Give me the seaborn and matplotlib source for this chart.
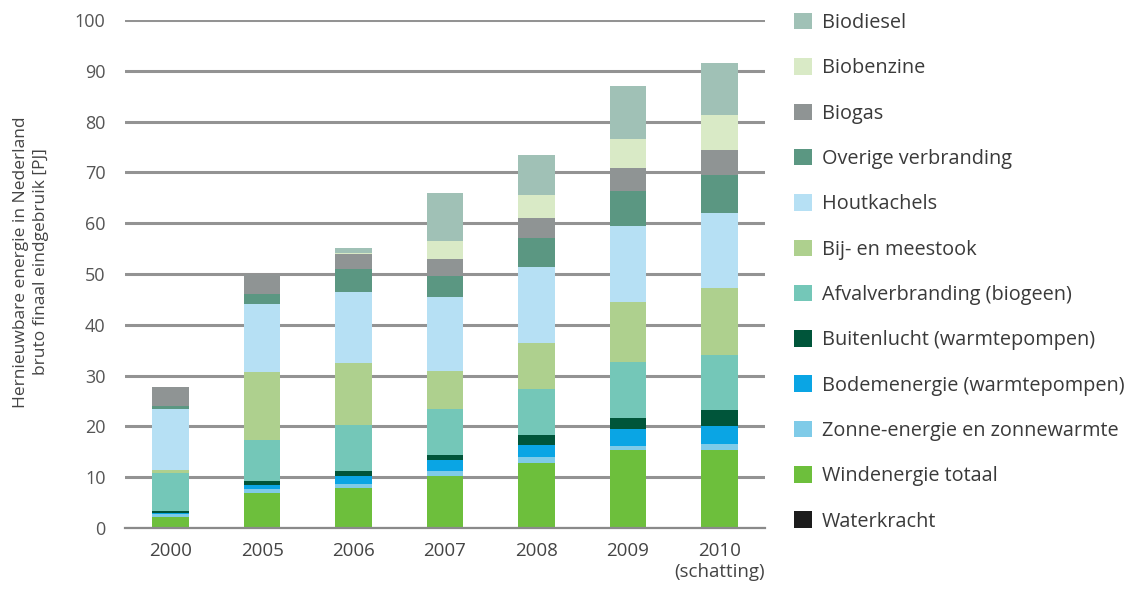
import matplotlib
matplotlib.use("Agg")
import matplotlib.pyplot as plt
import seaborn as sns
import numpy as np
import pandas as pd
from matplotlib.patches import Patch
from matplotlib.ticker import FixedLocator

# ---- data (PJ), stacked bottom -> top ----
years = ["2000", "2005", "2006", "2007", "2008", "2009", "2010\n(schatting)"]
waterkracht = [0.1, 0.1, 0.1, 0.1, 0.1, 0.1, 0.1]
windenergie = [2.0, 6.7, 7.8, 10.1, 12.7, 15.2, 15.3]
zonne = [0.6, 0.8, 0.8, 1.0, 1.2, 0.9, 1.2]
bodem = [0.3, 0.85, 1.6, 2.1, 2.4, 3.2, 3.4]
buitenlucht = [0.3, 0.8, 0.9, 1.1, 2.0, 2.3, 3.2]
afval = [7.6, 8.1, 9.0, 9.0, 9.0, 10.9, 10.8]
bijstook = [0.6, 13.3, 12.3, 7.6, 9.0, 11.9, 13.2]
houtkachels = [11.9, 13.4, 14.0, 14.4, 14.9, 15.0, 14.9]
overige = [0.7, 2.1, 4.5, 4.2, 5.7, 6.9, 7.3]
biogas = [3.7, 3.8, 2.9, 3.3, 4.0, 4.5, 5.1]
biobenzine = [0.0, 0.0, 0.3, 3.6, 4.6, 5.7, 6.8]
biodiesel = [0.0, 0.0, 1.0, 9.5, 7.9, 10.5, 10.3]

labels = ["Waterkracht", "Windenergie totaal", "Zonne-energie en zonnewarmte",
          "Bodemenergie (warmtepompen)", "Buitenlucht (warmtepompen)",
          "Afvalverbranding (biogeen)", "Bij- en meestook", "Houtkachels",
          "Overige verbranding", "Biogas", "Biobenzine", "Biodiesel"]
series = [waterkracht, windenergie, zonne, bodem, buitenlucht, afval,
          bijstook, houtkachels, overige, biogas, biobenzine, biodiesel]
colors = ["#1c1c1c", "#6dbf3c", "#7fcbe8", "#0aa5e4", "#00553a", "#74c7b8",
          "#aed08e", "#b6e0f4", "#5b9782", "#8f9494", "#d9eac6", "#a0c1b6"]

df = pd.DataFrame({lab: vals for lab, vals in zip(labels, series)})
df["year"] = years
cum = df[labels].cumsum(axis=1)

fig = plt.figure(figsize=(11.31, 5.95), dpi=100)
sns.set_style("white")
plt.rcParams["font.family"] = ["Open Sans", "DejaVu Sans"]

ax = fig.add_axes([125 / 1131, 67 / 595, 640 / 1131, 508 / 595])

# draw cumulative totals from top series to bottom so lower layers overlay
for lab, col in reversed(list(zip(labels, colors))):
    sns.barplot(x=df["year"], y=cum[lab], color=col, ax=ax, width=0.4,
                saturation=1, linewidth=0, order=years, zorder=3)

ax.set_ylim(0, 100)
ax.set_xlim(-0.5, len(years) - 0.5)
ax.set_yticks(np.arange(0, 101, 10))
ax.yaxis.grid(True, color="#939393", linewidth=2.2, zorder=0)
ax.xaxis.grid(False)
ax.set_axisbelow(True)
for s in ["top", "right", "left"]:
    ax.spines[s].set_visible(False)
ax.spines["bottom"].set_color("#8a8a8a")
ax.spines["bottom"].set_linewidth(1.6)
ax.spines["bottom"].set_zorder(4)
ax.tick_params(axis="y", length=0, pad=14, labelsize=13, labelcolor="#555555")
ax.tick_params(axis="x", which="major", length=0, pad=10, labelsize=13.5,
               labelcolor="#444444")
ax.xaxis.set_minor_locator(FixedLocator(np.arange(-0.5, len(years), 1.0)))
ax.tick_params(axis="x", which="minor", length=7, width=1.3, color="#8a8a8a")
ax.set_xlabel("")
ax.set_ylabel("")

fig.text(31 / 1131, 1 - 262 / 595,
         "Hernieuwbare energie in Nederland\nbruto finaal eindgebruik [PJ]",
         rotation=90, ha="center", va="center", fontsize=12.5,
         color="#444444", linespacing=1.3)

handles = [Patch(facecolor=c, edgecolor="none") for c in colors]
fig.legend(handles[::-1], labels[::-1], loc="upper left",
           bbox_to_anchor=(786 / 1131, 1 - 5 / 595), frameon=False,
           fontsize=14.3, handlelength=0.9, handleheight=0.9,
           labelspacing=1.27, handletextpad=0.5, labelcolor="#3a3a3a",
           borderaxespad=0)

fig.savefig("out.png", dpi=100)
